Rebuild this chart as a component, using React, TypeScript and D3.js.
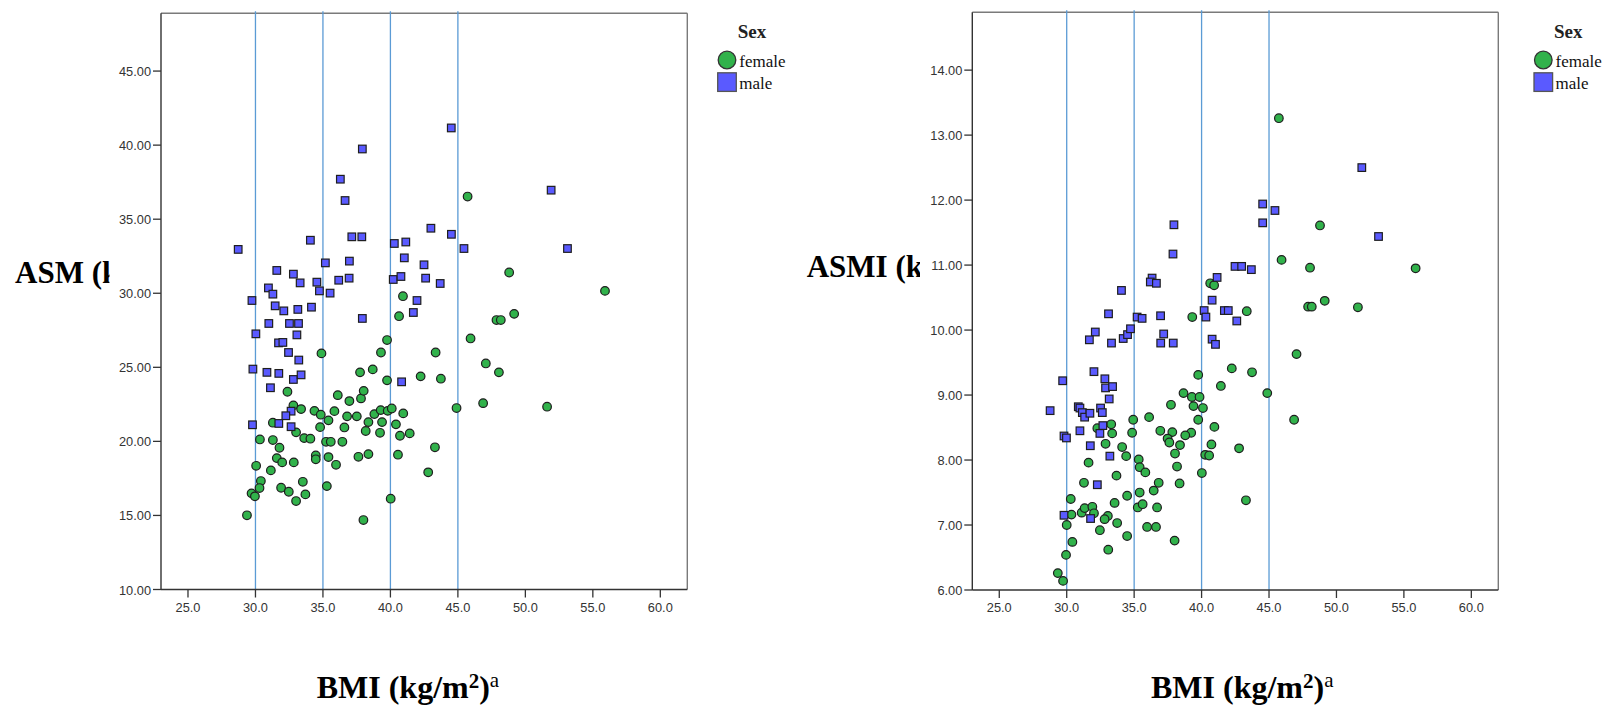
import React from 'react';
import * as d3 from 'd3';

const xTicks = [25, 30, 35, 40, 45, 50, 55, 60];
const asmTicks = [10, 15, 20, 25, 30, 35, 40, 45];
const asmiTicks = [6, 7, 8, 9, 10, 11, 12, 13, 14];
const refLines = [30, 35, 40, 45];
const legendItems = ['female', 'male'];

const asmFemale: [number, number][] = [
  [29.37, 15.01], [29.71, 16.49], [29.96, 16.29], [30.05, 18.35], [30.33, 20.13], [30.4, 17.32], [30.3, 16.85],
  [31.14, 18.04], [31.29, 20.09], [31.29, 21.26], [31.58, 18.87], [31.78, 19.57], [31.98, 18.58], [31.9, 16.87],
  [32.37, 23.35], [32.47, 16.6], [32.81, 22.43], [32.84, 18.58], [33.01, 20.61], [33.01, 15.97], [33.38, 22.18],
  [33.61, 20.22], [34.07, 20.18], [33.51, 17.27], [33.7, 16.42], [34.37, 22.06], [34.47, 19.05], [34.47, 18.79],
  [34.84, 21.8], [34.79, 20.96], [34.89, 25.94], [35.41, 21.42], [35.23, 19.97], [35.58, 19.97], [35.41, 18.94],
  [35.29, 16.98], [35.85, 22.04], [35.97, 18.42], [36.1, 23.12], [36.44, 19.97], [36.59, 20.94], [36.79, 21.69],
  [36.96, 22.72], [37.51, 21.69], [37.63, 18.96], [37.75, 24.66], [37.82, 22.9], [38.02, 23.41], [38.17, 20.7],
  [38.37, 21.3], [38.37, 19.14], [38.0, 14.69], [38.69, 24.86], [38.81, 21.84], [39.3, 26.0], [39.28, 22.11],
  [39.38, 21.3], [39.23, 20.58], [39.75, 26.84], [39.75, 24.12], [39.8, 22.06], [40.1, 22.22], [40.02, 16.13],
  [40.64, 28.45], [40.41, 21.15], [40.71, 20.38], [40.56, 19.1], [40.93, 29.8], [40.95, 21.89], [41.43, 20.54],
  [42.24, 24.39], [43.74, 24.23], [43.35, 26.0], [43.3, 19.6], [42.8, 17.91], [44.9, 22.25], [45.72, 36.53],
  [45.94, 26.95], [46.87, 22.58], [47.07, 25.26], [48.04, 24.66], [47.86, 28.19], [48.18, 28.19], [48.8, 31.4],
  [49.17, 28.61], [51.61, 22.34], [55.9, 30.16],
];

const asmMale: [number, number][] = [
  [28.72, 32.96], [37.92, 39.74], [36.29, 37.7], [36.64, 36.26], [34.07, 33.58], [37.14, 33.81], [37.88, 33.81],
  [40.29, 33.36], [35.18, 32.05], [36.96, 32.17], [31.58, 31.54], [32.81, 31.29], [33.31, 30.7], [30.96, 30.36],
  [31.29, 29.94], [29.74, 29.51], [34.55, 30.75], [34.74, 30.16], [36.17, 30.88], [36.94, 31.02], [35.53, 30.01],
  [40.21, 30.93], [31.46, 29.15], [32.1, 28.81], [33.14, 28.91], [34.15, 29.06], [37.92, 28.3], [30.99, 27.96],
  [32.52, 27.96], [33.19, 27.96], [30.03, 27.26], [33.07, 27.19], [31.71, 26.65], [32.03, 26.68], [32.45, 26.0],
  [33.21, 25.49], [29.81, 24.88], [30.85, 24.66], [31.73, 24.59], [32.81, 24.18], [33.38, 24.49], [31.11, 23.62],
  [40.83, 24.02], [29.78, 21.12], [32.64, 22.04], [32.25, 21.73], [31.73, 21.21], [32.64, 20.99], [44.51, 41.16],
  [51.91, 36.96], [43.0, 34.39], [44.52, 33.98], [45.45, 33.02], [53.12, 33.02], [41.14, 33.46], [41.03, 32.39],
  [42.49, 31.92], [40.78, 31.13], [42.61, 31.02], [43.69, 30.66], [41.97, 29.51], [41.7, 28.7],
];

const asmiFemale: [number, number][] = [
  [45.73, 13.26], [48.78, 11.61], [45.93, 11.08], [48.04, 10.96], [55.87, 10.95], [40.64, 10.72], [40.93, 10.69],
  [43.35, 10.29], [39.31, 10.2], [47.9, 10.36], [48.17, 10.36], [49.13, 10.45], [51.59, 10.35], [47.04, 9.63],
  [42.24, 9.41], [43.74, 9.35], [39.75, 9.31], [41.43, 9.14], [44.87, 9.03], [38.66, 9.03], [39.28, 8.97],
  [39.85, 8.97], [39.4, 8.83], [40.1, 8.8], [39.75, 8.62], [46.86, 8.62], [40.95, 8.51], [39.23, 8.42],
  [38.79, 8.38], [40.73, 8.24], [42.78, 8.18], [40.27, 8.08], [40.56, 8.07], [40.02, 7.8], [43.29, 7.38],
  [37.73, 8.85], [36.11, 8.66], [34.93, 8.62], [34.85, 8.42], [36.94, 8.45], [37.83, 8.43], [37.48, 8.33],
  [37.61, 8.27], [38.4, 8.23], [38.03, 8.1], [38.18, 7.9], [38.37, 7.64], [35.34, 8.01], [35.41, 7.89],
  [35.83, 7.81], [35.27, 7.27], [35.63, 7.32], [35.41, 7.5], [36.45, 7.53], [36.82, 7.65], [36.7, 7.27],
  [35.96, 6.97], [36.62, 6.97], [38.0, 6.76], [34.41, 8.06], [34.11, 8.2], [33.69, 7.76], [33.55, 7.34],
  [34.48, 7.45], [34.48, 6.83], [33.74, 7.03], [33.08, 6.62], [33.05, 7.14], [32.81, 7.09], [32.46, 6.92],
  [33.3, 8.55], [33.37, 8.41], [32.88, 8.25], [32.27, 8.49], [31.62, 7.96], [31.28, 7.65], [30.3, 7.4],
  [30.35, 7.16], [30.0, 7.0], [30.42, 6.74], [29.95, 6.54], [29.34, 6.26], [29.73, 6.14], [31.11, 7.19],
  [31.33, 7.26], [31.9, 7.28], [32.02, 7.18],
];

const asmiMale: [number, number][] = [
  [37.95, 11.62], [37.88, 11.17], [34.06, 10.61], [36.33, 10.8], [36.2, 10.74], [36.65, 10.72], [33.1, 10.25],
  [35.22, 10.2], [35.59, 10.18], [36.96, 10.22], [32.12, 9.97], [31.68, 9.85], [33.32, 9.8], [34.19, 9.87],
  [34.51, 9.93], [34.73, 10.02], [37.19, 9.94], [36.97, 9.8], [37.9, 9.8], [32.02, 9.36], [29.7, 9.22],
  [32.83, 9.25], [32.88, 9.11], [33.4, 9.13], [33.15, 8.94], [28.77, 8.76], [30.86, 8.82], [30.98, 8.8],
  [31.16, 8.73], [31.33, 8.66], [31.72, 8.72], [32.51, 8.8], [32.64, 8.73], [32.68, 8.53], [32.46, 8.41],
  [30.98, 8.45], [29.8, 8.37], [29.98, 8.34], [31.75, 8.22], [33.2, 8.06], [32.27, 7.62], [29.8, 7.15],
  [31.77, 7.1], [51.88, 12.5], [44.53, 11.94], [45.44, 11.84], [44.53, 11.65], [53.12, 11.44], [42.48, 10.98],
  [42.97, 10.98], [43.69, 10.93], [41.15, 10.81], [40.78, 10.46], [40.19, 10.3], [41.69, 10.3], [41.98, 10.3],
  [40.32, 10.2], [42.61, 10.14], [40.78, 9.86], [41.03, 9.78],
];

const GREEN = '#31b24b';
const BLUE = '#5a5aff';
const MARK_STROKE = '#1e1e1e';
const REF = '#5b9bd5';
const SANS = '"Liberation Sans", Arial, sans-serif';
const SERIF = '"Liberation Serif", "Times New Roman", serif';

type PanelProps = {
  id: string;
  x0: number; x1: number; y0: number; y1: number;
  yDomain: [number, number];
  yTicks: number[];
  female: [number, number][];
  male: [number, number][];
  yTitle: string;
  yTitleX: number; yTitleY: number;
  clipX0: number; clipX1: number;
  legendX: number;
  xTitleX: number;
};

function Panel(p: PanelProps) {
  const x = d3.scaleLinear().domain([23, 62]).range([p.x0, p.x1]);
  const y = d3.scaleLinear().domain(p.yDomain).range([p.y1, p.y0]);
  const fmtY = d3.format('.2f');
  const fmtX = d3.format('.1f');
  const sq = 7.6;
  return (
    <g>
      <defs>
        <clipPath id={p.id + '-clip'}>
          <rect x={p.clipX0} y={200} width={p.clipX1 - p.clipX0} height={120} />
        </clipPath>
      </defs>
      {/* frame top & right */}
      <line x1={p.x0} x2={p.x1} y1={p.y0} y2={p.y0} stroke="#7a7a7a" strokeWidth={1.4} />
      <line x1={p.x1} x2={p.x1} y1={p.y0} y2={p.y1} stroke="#7a7a7a" strokeWidth={1.4} />
      {/* reference lines */}
      {refLines.map((v) => (
        <line key={v} x1={x(v)} x2={x(v)} y1={p.y0 - 2} y2={p.y1} stroke={REF} strokeWidth={1.3} />
      ))}
      {/* axes */}
      <line x1={p.x0} x2={p.x0} y1={p.y0} y2={p.y1} stroke="#333" strokeWidth={1.4} />
      <line x1={p.x0} x2={p.x1} y1={p.y1} y2={p.y1} stroke="#333" strokeWidth={1.4} />
      {p.yTicks.map((t) => (
        <g key={'y' + t}>
          <line x1={p.x0 - 8} x2={p.x0} y1={y(t)} y2={y(t)} stroke="#333" strokeWidth={1.3} />
          <text x={p.x0 - 10} y={y(t) + 5} textAnchor="end" fontFamily={SANS} fontSize={12.8} fill="#333">
            {fmtY(t)}
          </text>
        </g>
      ))}
      {xTicks.map((t) => (
        <g key={'x' + t}>
          <line x1={x(t)} x2={x(t)} y1={p.y1} y2={p.y1 + 8} stroke="#333" strokeWidth={1.3} />
          <text x={x(t)} y={p.y1 + 22} textAnchor="middle" fontFamily={SANS} fontSize={12.8} fill="#333">
            {fmtX(t)}
          </text>
        </g>
      ))}
      {/* points */}
      {p.female.map(([bx, by], i) => (
        <circle key={'f' + i} cx={x(bx)} cy={y(by)} r={4.3} fill={GREEN} stroke={MARK_STROKE} strokeWidth={1.2} />
      ))}
      {p.male.map(([bx, by], i) => (
        <rect key={'m' + i} x={x(bx) - sq / 2} y={y(by) - sq / 2} width={sq} height={sq} fill={BLUE}
          stroke={MARK_STROKE} strokeWidth={1.2} />
      ))}
      {/* y title (clipped) */}
      <text x={p.yTitleX} y={p.yTitleY} fontFamily={SERIF} fontWeight="bold" fontSize={31}
        fill="#000" clipPath={`url(#${p.id}-clip)`}>
        {p.yTitle}
      </text>
      {/* x title */}
      <text x={p.xTitleX} y={698} fontFamily={SERIF} fontWeight="bold" fontSize={32} fill="#000">
        BMI (kg/m
        <tspan fontSize={21} dy={-10}>2</tspan>
        <tspan fontSize={32} dy={10}>)</tspan>
        <tspan fontSize={21} fontWeight="normal" dy={-11}>a</tspan>
      </text>
      {/* legend */}
      <text x={p.legendX + 25} y={38} textAnchor="middle" fontFamily={SERIF} fontWeight="bold" fontSize={19} fill="#222">
        Sex
      </text>
      <circle cx={p.legendX} cy={60} r={8.8} fill={GREEN} stroke="#333" strokeWidth={1.3} />
      <rect x={p.legendX - 9.3} y={72.8} width={18.6} height={18.6} fill={BLUE} stroke="#555" strokeWidth={1.3} />
      {legendItems.map((name, i) => (
        <text key={name} x={p.legendX + 12.3} y={66.5 + i * 22.8} fontFamily={SERIF} fontSize={17} fill="#111">
          {name}
        </text>
      ))}
    </g>
  );
}

export default function App() {
  return (
    <svg width={1604} height={706} style={{ position: 'absolute', left: 0, top: 0, background: '#fff' }}>
      <rect x={0} y={0} width={1604} height={706} fill="#fff" />
      <Panel id="asm" x0={161} x1={687.3} y0={13.3} y1={589.5} yDomain={[10, 48.9]} yTicks={asmTicks}
        female={asmFemale} male={asmMale} yTitle="ASM (kg)" yTitleX={15} yTitleY={283}
        clipX0={0} clipX1={109.5} legendX={727} xTitleX={316.7} />
      <Panel id="asmi" x0={972.3} x1={1498.3} y0={12.3} y1={590} yDomain={[6, 14.89]} yTicks={asmiTicks}
        female={asmiFemale} male={asmiMale} yTitle="ASMI (kg/m²)" yTitleX={806.7} yTitleY={277}
        clipX0={780} clipX1={920} legendX={1543.3} xTitleX={1151} />
    </svg>
  );
}
